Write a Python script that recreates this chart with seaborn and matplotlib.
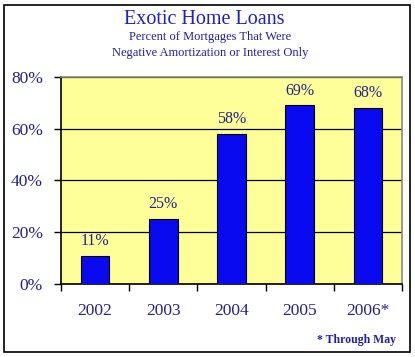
import matplotlib
matplotlib.use("Agg")
import matplotlib.pyplot as plt
import seaborn as sns
import numpy as np
from matplotlib.patches import Rectangle

years = ["2002", "2003", "2004", "2005", "2006*"]
pct = [11, 25, 58, 69, 68]
yticks = [0, 20, 40, 60, 80]

title = "Exotic Home Loans"
subtitle = "Percent of Mortgages That Were\nNegative Amortization or Interest Only"
note = "* Through May"

W, H = 415, 357
navy = "#22228c"
blue = "#0a0af0"

sns.set_style("white")
plt.rcParams["font.family"] = ["Liberation Serif", "DejaVu Serif"]

fig = plt.figure(figsize=(W / 100, H / 100), dpi=100)
fig.patch.set_facecolor("white")

# outer frame
fig.patches.append(Rectangle((4 / W, 5 / H), 406 / W, 347 / H, transform=fig.transFigure,
                             fill=False, edgecolor="black", linewidth=1.2))

ax = fig.add_axes([61 / W, 1 - 284 / H, 341 / W, 207 / H])
ax.set_facecolor("#ffff99")
sns.barplot(x=years, y=pct, color=blue, saturation=1, width=0.42,
            edgecolor="black", linewidth=0.8, ax=ax, zorder=3)

ax.set_ylim(0, 80)
ax.set_xlim(-0.5, 4.5)
ax.set_yticks(yticks)
ax.set_yticklabels([f"{v}%" for v in yticks])
ax.yaxis.grid(True, color="black", linewidth=0.9)
ax.set_axisbelow(True)

ax.bar_label(ax.containers[0], labels=[f"{v}%" for v in pct], padding=5,
             fontsize=11.5, color=navy)

ax.tick_params(axis="y", which="major", left=True, length=5, width=1, color="black",
               labelsize=12.5, labelcolor=navy, pad=8)
ax.tick_params(axis="x", which="major", bottom=False, length=0, labelsize=12.5,
               labelcolor=navy, pad=14)
ax.set_xticks(np.arange(-0.5, 5, 1), minor=True)
ax.tick_params(axis="x", which="minor", bottom=True, length=5, width=1, color="black")
ax.set_xlabel("")
ax.set_ylabel("")

for side in ["left", "bottom"]:
    ax.spines[side].set_color("black")
    ax.spines[side].set_linewidth(1.2)
for side in ["top", "right"]:
    ax.spines[side].set_color("#8a8a7a")
    ax.spines[side].set_linewidth(1.2)

fig.text(204 / W, 1 - 20 / H, title, ha="center", va="center", fontsize=14.5, color="#1f1fc8")
fig.text(210 / W, 1 - 45 / H, subtitle, ha="center", va="center", fontsize=9,
         color="#1f1fa8", linespacing=1.45)
fig.text(396 / W, 1 - 340 / H, note, ha="right", va="center", fontsize=8.5,
         fontweight="bold", color="#1f1fa8")

fig.savefig("out.png", dpi=100)
